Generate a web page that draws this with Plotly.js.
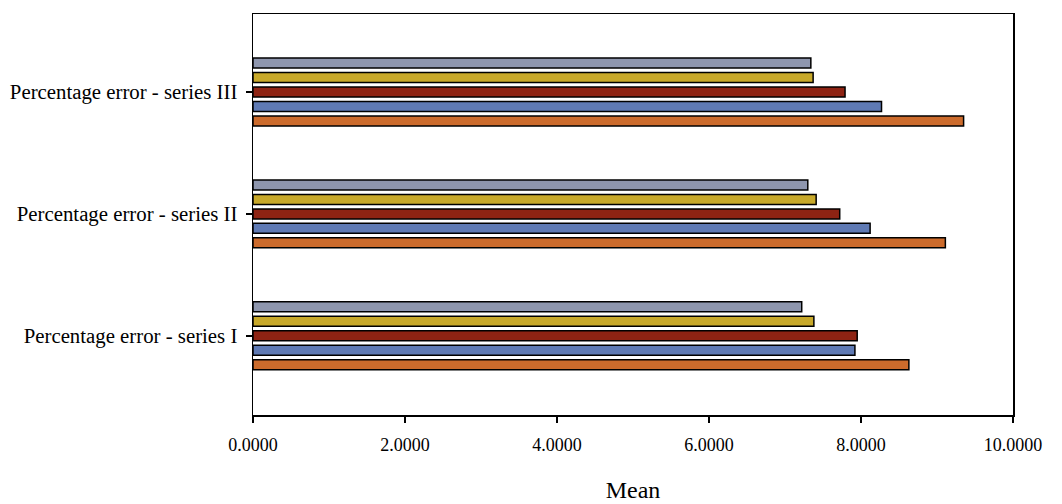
<!DOCTYPE html>
<html>
<head>
<meta charset="utf-8">
<script src="https://cdn.plot.ly/plotly-3.0.1.min.js"></script>
<style>html,body{margin:0;padding:0;background:#fff;}#chart{width:1062px;height:504px;}</style>
</head>
<body>
<div id="chart"></div>
<script>
const categories = ["Percentage error - series I", "Percentage error - series II", "Percentage error - series III"];
const tickValues = [0, 2, 4, 6, 8, 10];
const tickLabels = ["0.0000", "2.0000", "4.0000", "6.0000", "8.0000", "10.0000"];
// Series listed bottom-to-top within each group
const seriesA = [8.63, 9.11, 9.35];  // orange
const seriesB = [7.92, 8.12, 8.27];  // blue
const seriesC = [7.95, 7.72, 7.79];  // dark red
const seriesD = [7.38, 7.41, 7.37];  // gold
const seriesE = [7.22, 7.30, 7.34];  // grey-blue

const colors = ["#CC6B2C", "#5F7AB4", "#8E2313", "#C8A92A", "#8E96AE"];
const allSeries = [seriesA, seriesB, seriesC, seriesD, seriesE];
const names = ["A", "B", "C", "D", "E"];

const traces = allSeries.map((vals, i) => ({
  type: "bar",
  orientation: "h",
  name: names[i],
  y: categories,
  x: vals,
  marker: {color: colors[i], line: {color: "#000000", width: 1.5}},
  hoverinfo: "x"
}));

const font = "Liberation Serif, Times New Roman, serif";
const layout = {
  width: 1062, height: 504,
  margin: {l: 253, r: 49, t: 14, b: 89},
  paper_bgcolor: "#ffffff", plot_bgcolor: "#ffffff",
  barmode: "group",
  bargap: 0.406,
  bargroupgap: 0.31,
  showlegend: false,
  font: {family: font, size: 17, color: "#000000"},
  xaxis: {
    range: [0, 10],
    tickvals: tickValues,
    ticktext: tickLabels,
    ticks: "outside", ticklen: 6, tickwidth: 1.5, tickcolor: "#000",
    showline: true, linecolor: "#000", linewidth: 1.5, mirror: true,
    showgrid: false, zeroline: false,
    ticklabelstandoff: 7,
    tickfont: {family: font, size: 18, color: "#000"},
    title: {text: "Mean", font: {family: font, size: 24, color: "#000"}, standoff: 27}
  },
  yaxis: {
    type: "category",
    range: [-0.65, 2.64],
    ticks: "outside", ticklen: 6, tickwidth: 1.5, tickcolor: "#000",
    showline: true, linecolor: "#000", linewidth: 1.5, mirror: true,
    showgrid: false, zeroline: false,
    ticklabelstandoff: 4,
    tickfont: {family: font, size: 20.8, color: "#000"}
  }
};
Plotly.newPlot("chart", traces, layout, {displayModeBar: false, staticPlot: true});
</script>
</body>
</html>
